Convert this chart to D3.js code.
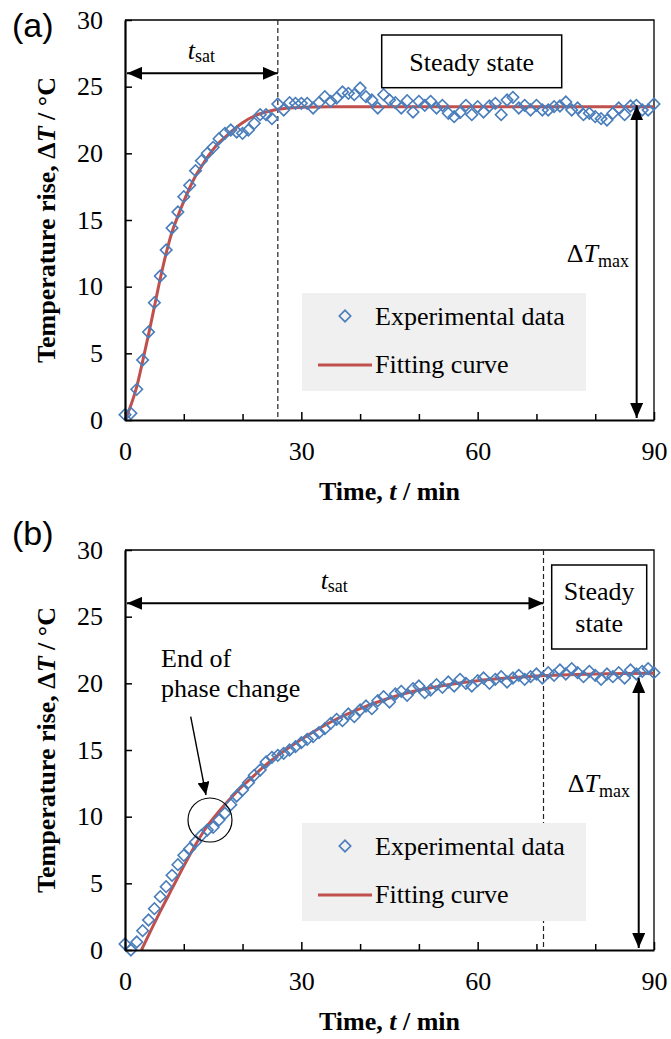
<!DOCTYPE html>
<html>
<head>
<meta charset="utf-8">
<script src="https://cdn.jsdelivr.net/npm/d3@7"></script>
<style>
  html, body { margin: 0; padding: 0; background: #fff; }
  svg { display: block; }
</style>
</head>
<body>
<svg id="chart" width="671" height="1039"></svg>
<script>
// ---- Data -------------------------------------------------------------
// Sampling times (min), shared by both runs
const sampleTimes = [
  0, 1, 2, 3, 4, 5, 6, 7, 8, 9, 10, 11, 12, 13, 14, 15, 16, 17, 18, 19, 20,
  21, 22, 23, 24, 25, 26, 27, 28, 29, 30, 31, 32, 33, 34, 35, 36, 37, 38, 39, 40,
  41, 42, 43, 44, 45, 46, 47, 48, 49, 50, 51, 52, 53, 54, 55, 56, 57, 58, 59, 60,
  61, 62, 63, 64, 65, 66, 67, 68, 69, 70, 71, 72, 73, 74, 75, 76, 77, 78, 79, 80,
  81, 82, 83, 84, 85, 86, 87, 88, 89, 90
];

// Measured temperature rise (°C), run (a)
const tempRiseA = [
  0.4, 0.5, 2.3, 4.5, 6.6, 8.8, 10.8, 12.75, 14.4, 15.6, 16.75,
  17.6, 18.7, 19.45, 20.0, 20.45, 21.1, 21.5, 21.75, 21.6, 21.5,
  21.75, 22.25, 22.9, 22.9, 22.6, 23.7, 23.25, 23.8, 23.75, 23.75,
  23.75, 23.4, 23.8, 24.25, 23.9, 24.15, 24.6, 24.5, 24.4, 24.9,
  24.25, 24.0, 23.4, 24.4, 24.0, 23.8, 23.4, 23.95, 23.1, 23.9,
  23.6, 23.9, 23.4, 23.6, 23.0, 22.75, 23.05, 23.6, 22.9, 23.5,
  23.1, 23.55, 23.75, 22.9, 24.0, 24.2, 23.4, 23.6, 23.25, 23.6,
  23.25, 23.25, 23.5, 23.55, 23.85, 23.25, 23.4, 22.9, 23.0, 22.75,
  22.6, 22.5, 23.0, 23.4, 22.9, 23.55, 23.6, 23.25, 23.25, 23.7
];

// Measured temperature rise (°C), run (b)
const tempRiseB = [
  0.45, 0.0, 0.6, 1.45, 2.25, 3.1, 4.0, 4.75, 5.6, 6.4, 7.1,
  7.6, 8.1, 8.6, 9.0, 9.2, 9.75, 10.25, 10.9, 11.55, 12.0,
  12.55, 13.1, 13.5, 14.1, 14.45, 14.6, 14.75, 15.0, 15.25, 15.55,
  15.8, 16.0, 16.3, 16.6, 17.0, 17.3, 17.2, 17.7, 17.5, 18.0,
  18.3, 18.1, 18.7, 19.0, 18.6, 19.2, 19.4, 19.1, 19.6, 19.8,
  19.3, 19.5, 19.9, 19.7, 20.1, 19.8, 20.3, 20.0, 19.8, 20.2,
  20.4, 20.0, 20.3, 20.5, 20.1, 20.4, 20.6, 20.3, 20.5, 20.7,
  20.4, 20.8, 20.6, 21.0, 20.7, 21.1, 20.8, 20.5, 20.9, 20.6,
  20.3, 20.7, 20.5, 20.8, 20.4, 21.0, 20.7, 20.9, 21.1, 20.8
];

// Fitted curves (time in min, temperature rise in °C)
const fitTimesA  = [0, 1, 2, 3, 4, 5, 6, 7, 8, 9, 10, 11, 12, 13, 14, 15, 16, 17, 18, 20, 22, 24, 26, 28, 30, 35, 40, 50, 60, 70, 80, 90];
const fitValuesA = [0, 1.1, 2.5, 4.4, 6.4, 8.5, 10.6, 12.5, 14.1, 15.3, 16.4, 17.4, 18.3, 19.0, 19.7, 20.3, 20.8, 21.2, 21.6, 22.3, 22.8, 23.1, 23.3, 23.4, 23.45, 23.5, 23.5, 23.5, 23.5, 23.5, 23.5, 23.5];

const fitTimesB  = [2.8, 4, 6, 8, 10, 12, 14, 16, 18, 20, 22, 24, 26, 28, 30, 35, 40, 45, 50, 55, 60, 65, 70, 80, 90];
const fitValuesB = [0, 1.1, 2.9, 4.6, 6.3, 7.9, 9.3, 10.4, 11.4, 12.3, 13.1, 13.9, 14.6, 15.2, 15.8, 17.1, 18.1, 18.9, 19.5, 19.9, 20.2, 20.4, 20.55, 20.7, 20.75];

// Characteristic values read per run
const saturationTimes = [26, 71.2];   // t_sat (min)
const maxRises        = [23.6, 20.4]; // ΔT_max (°C)

// Axis ticks and labels
const xTickValues  = [0, 30, 60, 90];
const xMinorTicks  = [10, 20, 40, 50, 70, 80];
const yTickValues  = [0, 5, 10, 15, 20, 25, 30];
const legendLabels = ["Experimental data", "Fitting curve"];
const panelTags    = ["(a)", "(b)"];

// ---- Drawing ----------------------------------------------------------
const SERIF = '"Liberation Serif", "Times New Roman", Times, serif';
const SANS  = '"Liberation Sans", Arial, Helvetica, sans-serif';
const BLUE = "#4A7EBB";
const RED  = "#C0504D";
const MARKER_AREA = 66;

const svg = d3.select("#chart");
svg.append("rect").attr("width", 671).attr("height", 1039).attr("fill", "#fff");

// filled triangular arrowhead
const defs = svg.append("defs");
defs.append("marker")
  .attr("id", "head")
  .attr("markerUnits", "userSpaceOnUse")
  .attr("markerWidth", 15).attr("markerHeight", 13)
  .attr("refX", 15).attr("refY", 6.5)
  .attr("orient", "auto-start-reverse")
  .append("path").attr("d", "M0,0L15,6.5L0,13Z").attr("fill", "#000");
defs.append("marker")
  .attr("id", "headSmall")
  .attr("markerUnits", "userSpaceOnUse")
  .attr("markerWidth", 13).attr("markerHeight", 12)
  .attr("refX", 13).attr("refY", 6)
  .attr("orient", "auto")
  .append("path").attr("d", "M0,0L13,6L0,12Z").attr("fill", "#000");

const panels = [
  {
    tag: panelTags[0], tagBaseline: 37,
    top: 20, bottom: 420,
    temps: tempRiseA, fitT: fitTimesA, fitV: fitValuesA,
    tSat: saturationTimes[0], dTmax: maxRises[0], dTmaxAt: 87.05,
    steadyBox: { x0: 381.7, x1: 561.7, y0: 15, y1: 67.7 },
    steadyLines: [{ text: "Steady state", x: 471.7, y: 51 }],
    dTmaxLabel: { x: 629, y: 242 },
    note: null
  },
  {
    tag: panelTags[1], tagBaseline: 545,
    top: 550, bottom: 950,
    temps: tempRiseB, fitT: fitTimesB, fitV: fitValuesB,
    tSat: saturationTimes[1], dTmax: maxRises[1], dTmaxAt: 87.4,
    steadyBox: { x0: 551.7, x1: 646.7, y0: 15, y1: 99 },
    steadyLines: [{ text: "Steady", x: 599.2, y: 50 }, { text: "state", x: 599.2, y: 81.7 }],
    dTmaxLabel: { x: 630, y: 241.7 },
    note: {
      lines: ["End of", "phase change"], x: 161, y: [116.7, 146.7],
      from: [190.7, 166.7], to: [206, 245],
      circle: { t: 14.46, v: 9.75, r: 22 }
    }
  }
];

panels.forEach(drawPanel);

function drawPanel(cfg) {
  const x = d3.scaleLinear().domain([0, 90]).range([125, 654]);
  const y = d3.scaleLinear().domain([0, 30]).range([cfg.bottom, cfg.top]);
  const g = svg.append("g");

  // panel tag
  g.append("text")
    .attr("x", 12).attr("y", cfg.tagBaseline)
    .attr("font-family", SANS).attr("font-size", 34)
    .text(cfg.tag);

  // top and right frame
  g.append("path")
    .attr("d", `M${x(0)},${y(30)}H${x(90)}V${y(0)}`)
    .attr("fill", "none").attr("stroke", "#000").attr("stroke-width", 1.3);

  // start of steady state
  g.append("line")
    .attr("x1", x(cfg.tSat)).attr("x2", x(cfg.tSat))
    .attr("y1", y(30)).attr("y2", y(0))
    .attr("stroke", "#222").attr("stroke-width", 1.2)
    .attr("stroke-dasharray", "5,3");

  // legend
  const lg = g.append("g").attr("transform", `translate(0,${cfg.top})`);
  lg.append("rect")
    .attr("x", 302).attr("y", 273).attr("width", 284).attr("height", 98)
    .attr("fill", "#F0F0F0");
  lg.append("path")
    .attr("transform", "translate(345,296) rotate(45)")
    .attr("d", d3.symbol(d3.symbolSquare, MARKER_AREA)())
    .attr("fill", "none").attr("stroke", BLUE).attr("stroke-width", 1.6);
  lg.append("line")
    .attr("x1", 318).attr("x2", 372).attr("y1", 345).attr("y2", 345)
    .attr("stroke", RED).attr("stroke-width", 3);
  lg.selectAll("text.lgt").data(legendLabels).join("text")
    .attr("class", "lgt")
    .attr("x", 375).attr("y", (d, i) => i === 0 ? 305 : 353)
    .attr("font-family", SERIF).attr("font-size", 26)
    .text(d => d);

  // fitted curve
  const line = d3.line()
    .x(d => x(d[0])).y(d => y(d[1]))
    .curve(d3.curveMonotoneX);
  g.append("path")
    .datum(d3.zip(cfg.fitT, cfg.fitV))
    .attr("d", line)
    .attr("fill", "none").attr("stroke", RED).attr("stroke-width", 3)
    .attr("stroke-linejoin", "round");

  // experimental points
  const diamond = d3.symbol(d3.symbolSquare, MARKER_AREA);
  g.append("g").selectAll("path")
    .data(d3.zip(sampleTimes, cfg.temps))
    .join("path")
    .attr("transform", d => `translate(${x(d[0])},${y(d[1])}) rotate(45)`)
    .attr("d", diamond)
    .attr("fill", "none").attr("stroke", BLUE).attr("stroke-width", 1.6);

  // axes
  const yAxis = g.append("g")
    .attr("transform", `translate(${x(0)},0)`)
    .call(d3.axisLeft(y).tickValues(yTickValues).tickSizeInner(-7).tickSizeOuter(0).tickPadding(22));
  const xMinor = g.append("g")
    .attr("transform", `translate(0,${y(0)})`)
    .call(d3.axisBottom(x).tickValues(xMinorTicks).tickSizeInner(-6).tickSizeOuter(0).tickFormat(""));
  xMinor.select(".domain").remove();
  const xAxis = g.append("g")
    .attr("transform", `translate(0,${y(0)})`)
    .call(d3.axisBottom(x).tickValues(xTickValues).tickSizeInner(-8).tickSizeOuter(0).tickPadding(22));

  [yAxis, xAxis, xMinor].forEach(ax => {
    ax.attr("font-family", SERIF).attr("font-size", 26);
    ax.selectAll(".tick line").attr("stroke", "#000").attr("stroke-width", 1.5);
    ax.selectAll(".tick text").attr("fill", "#000");
    ax.select(".domain").attr("stroke", "#000").attr("stroke-width", 2.2);
  });

  // axis titles
  const yt = g.append("text")
    .attr("transform", `translate(55,${(cfg.top + cfg.bottom) / 2}) rotate(-90)`)
    .attr("text-anchor", "middle")
    .attr("font-family", SERIF).attr("font-size", 26).attr("font-weight", "bold");
  yt.append("tspan").text("Temperature rise, Δ");
  yt.append("tspan").attr("font-style", "italic").text("T");
  yt.append("tspan").text(" / °C");

  const xt = g.append("text")
    .attr("x", (x(0) + x(90)) / 2).attr("y", cfg.bottom + 80)
    .attr("text-anchor", "middle")
    .attr("font-family", SERIF).attr("font-size", 26).attr("font-weight", "bold");
  xt.append("tspan").text("Time, ");
  xt.append("tspan").attr("font-style", "italic").text("t");
  xt.append("tspan").text(" / min");

  // t_sat arrow and label
  const ay = y(26);
  g.append("line")
    .attr("x1", x(0) + 2).attr("x2", x(cfg.tSat)).attr("y1", ay).attr("y2", ay)
    .attr("stroke", "#000").attr("stroke-width", 2)
    .attr("marker-start", "url(#head)").attr("marker-end", "url(#head)");
  const ts = g.append("text")
    .attr("x", (x(0) + x(cfg.tSat)) / 2).attr("y", ay - 14)
    .attr("text-anchor", "middle")
    .attr("font-family", SERIF).attr("font-size", 26);
  ts.append("tspan").attr("font-style", "italic").text("t");
  ts.append("tspan").attr("font-size", 18).attr("dy", 3).text("sat");

  // steady state box
  const sb = cfg.steadyBox;
  g.append("rect")
    .attr("x", sb.x0).attr("y", cfg.top + sb.y0)
    .attr("width", sb.x1 - sb.x0).attr("height", sb.y1 - sb.y0)
    .attr("fill", "#fff").attr("stroke", "#000").attr("stroke-width", 1.5);
  g.selectAll("text.ss").data(cfg.steadyLines).join("text")
    .attr("class", "ss")
    .attr("x", d => d.x).attr("y", d => cfg.top + d.y)
    .attr("text-anchor", "middle")
    .attr("font-family", SERIF).attr("font-size", 26)
    .text(d => d.text);

  // ΔT_max arrow and label
  g.append("line")
    .attr("x1", x(cfg.dTmaxAt)).attr("x2", x(cfg.dTmaxAt))
    .attr("y1", y(cfg.dTmax)).attr("y2", y(0) - 2)
    .attr("stroke", "#000").attr("stroke-width", 2)
    .attr("marker-start", "url(#head)").attr("marker-end", "url(#head)");
  const dl = g.append("text")
    .attr("x", cfg.dTmaxLabel.x).attr("y", cfg.top + cfg.dTmaxLabel.y)
    .attr("text-anchor", "end")
    .attr("font-family", SERIF).attr("font-size", 26);
  dl.append("tspan").text("Δ");
  dl.append("tspan").attr("font-style", "italic").text("T");
  dl.append("tspan").attr("font-size", 18).attr("dy", 5).text("max");

  // phase-change note
  if (cfg.note) {
    const n = cfg.note;
    n.lines.forEach((s, i) => {
      g.append("text")
        .attr("x", n.x).attr("y", cfg.top + n.y[i])
        .attr("font-family", SERIF).attr("font-size", 26)
        .text(s);
    });
    g.append("line")
      .attr("x1", n.from[0]).attr("y1", cfg.top + n.from[1])
      .attr("x2", n.to[0]).attr("y2", cfg.top + n.to[1])
      .attr("stroke", "#000").attr("stroke-width", 1.4)
      .attr("marker-end", "url(#headSmall)");
    g.append("circle")
      .attr("cx", x(n.circle.t)).attr("cy", y(n.circle.v)).attr("r", n.circle.r)
      .attr("fill", "none").attr("stroke", "#000").attr("stroke-width", 1.2);
  }
}
</script>
</body>
</html>
